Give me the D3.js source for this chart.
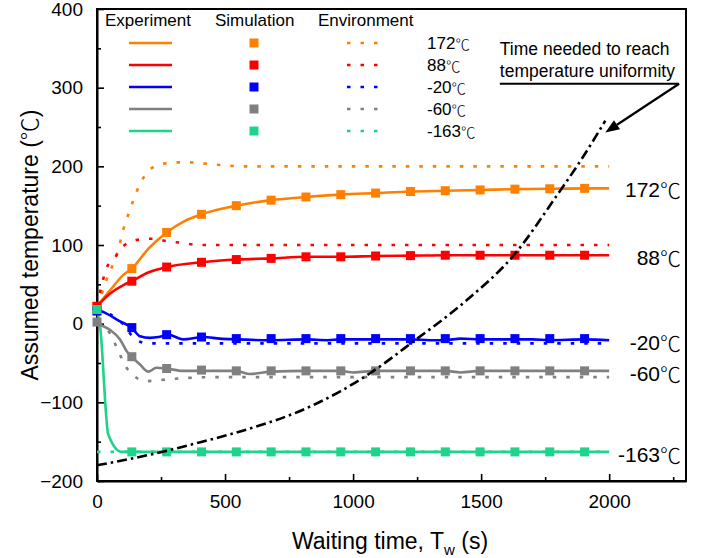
<!DOCTYPE html>
<html>
<head>
<meta charset="utf-8">
<script src="https://cdn.jsdelivr.net/npm/d3@7"></script>
<style>
  html, body { margin: 0; padding: 0; background: #fff; }
  svg text { font-family: "Liberation Sans", Arial, "Noto Sans CJK SC", sans-serif; fill: #000; }
  .cjk { font-family: "Noto Sans CJK SC", sans-serif; }
</style>
</head>
<body>
<svg id="chart" width="710" height="558"></svg>
<script>
// ---------------- DATA ----------------
const seriesNames = ["172℃", "88℃", "-20℃", "-60℃", "-163℃"];
const seriesColors = ["#FF8000", "#FF0000", "#0000FF", "#808080", "#1ED38A"];
const labelValues = [172, 88, -20, -60, -163];

// Experiment (solid lines): [time (s), temperature (℃)]
const expOrange = [[0,22],[50,42],[103,62],[136,70],[200,95],[272,116],[340,130],[408,139],[544,150],[680,157],[816,161],[952,164],[1088,166],[1224,168],[1360,169],[1496,170],[1632,171],[1768,171.5],[1904,172],[2000,172]];
const expRed    = [[0,22],[50,38],[103,49],[136,54],[200,65],[272,72],[408,78],[544,81.5],[680,83],[816,85],[952,85],[1088,86],[1224,86.5],[1360,87],[1496,87],[1632,87],[1768,87],[1904,87],[2000,87]];
const expBlue   = [[0,18],[30,14],[90,3],[135,-5],[168,-16],[207,-18],[240,-17],[278,-14],[336,-20],[414,-17],[480,-19],[544,-20],[681,-21],[816,-20],[900,-21],[952,-20],[1088,-20],[1224,-20],[1300,-21],[1360,-21],[1420,-19],[1496,-20],[1632,-20],[1700,-20],[1768,-21],[1904,-20],[2000,-21]];
const expGray   = [[0,0],[51,-8],[90,-20],[116,-35],[135,-42],[168,-52],[200,-61],[232,-56],[271,-57],[336,-60],[408,-60],[544,-60],[597,-64],[681,-61],[816,-60],[952,-60],[1000,-62],[1088,-60],[1224,-60],[1360,-60],[1420,-62],[1496,-60],[1632,-60],[1768,-60],[1904,-60],[2000,-60]];
const expGreen  = [[0,18],[12,-3],[44,-141],[96,-163],[2000,-163]];

// Simulation (squares)
const simTimes  = [0,136,272,408,544,680,816,952,1088,1224,1360,1496,1632,1768,1904];
const simOrange = [22,70,116,139,150,157,161,164,166,168,169,170,171,171.5,172];
const simRed    = [22,54,72,78,81.5,83,85,85,86,86.5,87,87,87,87,87];
const simBlue   = [16,-5,-14,-17,-19,-19,-19,-19,-19,-19,-19,-19,-19,-19,-19];
const simGray   = [2,-42,-57,-59,-60,-60,-60,-60,-60,-60,-60,-60,-60,-60,-60];
const simGreen  = [18,-163,-163,-163,-163,-163,-163,-163,-163,-163,-163,-163,-163,-163,-163];

// Environment (dotted lines)
const envOrange = [[0,22],[18,37],[35,54],[57,71],[83,94],[103,120],[129,145],[155,168],[200,194],[246,202],[304,205],[363,205],[467,202],[570,200],[2000,200]];
const envRed    = [[0,22],[38,71],[70,84],[100,98],[168,107],[220,108],[271,105],[323,103],[400,100],[2000,100]];
const envBlue   = [[0,18],[50,12],[100,0],[150,-20],[200,-25],[2000,-25]];
const envGray   = [[0,0],[50,-12],[90,-40],[122,-59],[193,-73],[271,-71],[350,-69],[450,-68],[2000,-68]];
const envGreen  = [[0,-163],[2000,-163]];

// Time needed to reach temperature uniformity (dash-dot)
const uniformity = [[0,-180],[200,-167],[400,-151],[600,-133],[800,-110],[950,-86],[1066,-63],[1238,-22],[1437,28],[1630,88],[1800,165],[1890,208],[1985,258]];

// Axes
const xTicks = [0, 500, 1000, 1500, 2000];
const yTicks = [-200, -100, 0, 100, 200, 300, 400];
const xDomain = [0, 2300];
const yDomain = [-200, 400];

const legendHeaders = ["Experiment", "Simulation", "Environment"];
const annotationLines = ["Time needed to reach", "temperature uniformity"];
const annotationAnchor = {textX: 1573, lineY: 305, lineEndX: 2273, tipX: 1985, tipY: 243};

// ---------------- DRAW ----------------
const svg = d3.select("#chart");
const L = 97, R = 686, T = 9, B = 481;
const x = d3.scaleLinear().domain(xDomain).range([L, R]);
const y = d3.scaleLinear().domain(yDomain).range([B, T]);

const exps = [expOrange, expRed, expBlue, expGray, expGreen];
const sims = [simOrange, simRed, simBlue, simGray, simGreen];
const envs = [envOrange, envRed, envBlue, envGray, envGreen];

const line = d3.line().x(d => x(d[0])).y(d => y(d[1])).curve(d3.curveMonotoneX);
const DOT = "3.5,10";
const SQ = 9;

// text with CJK ℃ glyph
function addLabel(sel, str, degSize) {
  const parts = str.split("℃");
  parts.forEach((p, i) => {
    if (p.length) sel.append("tspan").text(p);
    if (i < parts.length - 1) {
      const t = sel.append("tspan").attr("class", "cjk").attr("font-weight", 300).text("℃");
      if (degSize) t.attr("font-size", degSize);
    }
  });
  return sel;
}

// frame
svg.append("rect").attr("x", L).attr("y", T).attr("width", R - L).attr("height", B - T)
  .attr("fill", "none").attr("stroke", "#000").attr("stroke-width", 2);

// axes with inward ticks
const xAxis = d3.axisBottom(x).tickValues(xTicks).tickFormat(d3.format("d")).tickSizeInner(-7).tickSizeOuter(0).tickPadding(14);
const gx = svg.append("g").attr("transform", `translate(0,${B})`).call(xAxis);
const xMinor = d3.axisBottom(x).tickValues(d3.range(250, 2300, 500)).tickSize(-4).tickFormat("");
svg.append("g").attr("transform", `translate(0,${B})`).call(xMinor).call(g => g.select(".domain").remove());

const yAxis = d3.axisLeft(y).tickValues(yTicks).tickFormat(d3.format("d")).tickSizeInner(-7).tickSizeOuter(0).tickPadding(14);
const gy = svg.append("g").attr("transform", `translate(${L},0)`).call(yAxis);
const yMinor = d3.axisLeft(y).tickValues(d3.range(-150, 400, 100)).tickSize(-4).tickFormat("");
svg.append("g").attr("transform", `translate(${L},0)`).call(yMinor).call(g => g.select(".domain").remove());

svg.selectAll(".tick line").attr("stroke", "#000").attr("stroke-width", 1.6);
svg.selectAll(".domain").attr("stroke", "#000").attr("stroke-width", 2);
gx.selectAll("text").attr("font-size", 19).attr("font-family", "Liberation Sans, Arial, sans-serif");
gy.selectAll("text").attr("font-size", 19).attr("font-family", "Liberation Sans, Arial, sans-serif");

// axis titles
const xt = svg.append("text").attr("x", 390).attr("y", 549).attr("text-anchor", "middle").attr("font-size", 23);
xt.append("tspan").text("Waiting time, T");
xt.append("tspan").text("w").attr("font-size", 15).attr("dy", 6);
xt.append("tspan").text(" (s)").attr("dy", -6);

addLabel(svg.append("text").attr("transform", `translate(38,${(T + B) / 2}) rotate(-90)`)
  .attr("text-anchor", "middle").attr("font-size", 23), "Assumed temperature (℃)");

// environment dotted lines
envs.forEach((d, i) => {
  svg.append("path").datum(d).attr("d", line).attr("fill", "none")
    .attr("stroke", seriesColors[i]).attr("stroke-width", 2.6).attr("stroke-dasharray", DOT);
});
// experiment solid lines
exps.forEach((d, i) => {
  svg.append("path").datum(d).attr("d", line).attr("fill", "none")
    .attr("stroke", seriesColors[i]).attr("stroke-width", 2.6);
});
// simulation squares
sims.forEach((vals, i) => {
  svg.append("g").selectAll("rect").data(vals).join("rect")
    .attr("x", (v, j) => x(simTimes[j]) - SQ / 2).attr("y", v => y(v) - SQ / 2)
    .attr("width", SQ).attr("height", SQ).attr("fill", seriesColors[i]);
});

// uniformity dash-dot curve
svg.append("path").datum(uniformity).attr("d", line).attr("fill", "none")
  .attr("stroke", "#000").attr("stroke-width", 2.6).attr("stroke-dasharray", "10,4,2.5,4");

// right-side labels
const labelDy = [1, 3, 3, 2, 2];
seriesNames.forEach((n, i) => {
  addLabel(svg.append("text").attr("x", 681).attr("y", y(labelValues[i]) + labelDy[i])
    .attr("text-anchor", "end").attr("dominant-baseline", "central").attr("font-size", 21), n);
});

// legend
const hx = [105, 215, 318];
legendHeaders.forEach((h, i) => {
  svg.append("text").attr("x", hx[i]).attr("y", 26).attr("font-size", 17).text(h);
});
const rowY = [43, 65, 87, 109, 131];
seriesNames.forEach((n, i) => {
  const c = seriesColors[i];
  svg.append("line").attr("x1", 129).attr("x2", 172).attr("y1", rowY[i]).attr("y2", rowY[i])
    .attr("stroke", c).attr("stroke-width", 2.6);
  svg.append("rect").attr("x", 254 - 4.5).attr("y", rowY[i] - 4.5).attr("width", 9).attr("height", 9).attr("fill", c);
  svg.append("line").attr("x1", 347).attr("x2", 381).attr("y1", rowY[i]).attr("y2", rowY[i])
    .attr("stroke", c).attr("stroke-width", 2.6).attr("stroke-dasharray", DOT);
  addLabel(svg.append("text").attr("x", 427).attr("y", rowY[i]).attr("dominant-baseline", "central")
    .attr("font-size", 17), n, 14.5);
});

// annotation
const a = annotationAnchor;
annotationLines.forEach((t, i) => {
  svg.append("text").attr("x", x(a.textX)).attr("y", 55 + i * 22).attr("font-size", 17.5).text(t);
});
svg.append("line").attr("x1", x(a.textX)).attr("x2", x(a.lineEndX)).attr("y1", y(a.lineY)).attr("y2", y(a.lineY))
  .attr("stroke", "#000").attr("stroke-width", 2.2);
const sx = x(a.lineEndX), sy = y(a.lineY), tx = x(a.tipX), ty = y(a.tipY);
const ang = Math.atan2(ty - sy, tx - sx);
const hl = 14, hw = 5.5;
const bx = tx - hl * Math.cos(ang), by = ty - hl * Math.sin(ang);
svg.append("line").attr("x1", sx).attr("y1", sy).attr("x2", bx).attr("y2", by)
  .attr("stroke", "#000").attr("stroke-width", 2.2);
svg.append("path").attr("d", `M${tx},${ty} L${bx + hw * Math.sin(ang)},${by - hw * Math.cos(ang)} L${bx - hw * Math.sin(ang)},${by + hw * Math.cos(ang)} Z`)
  .attr("fill", "#000");
</script>
</body>
</html>
